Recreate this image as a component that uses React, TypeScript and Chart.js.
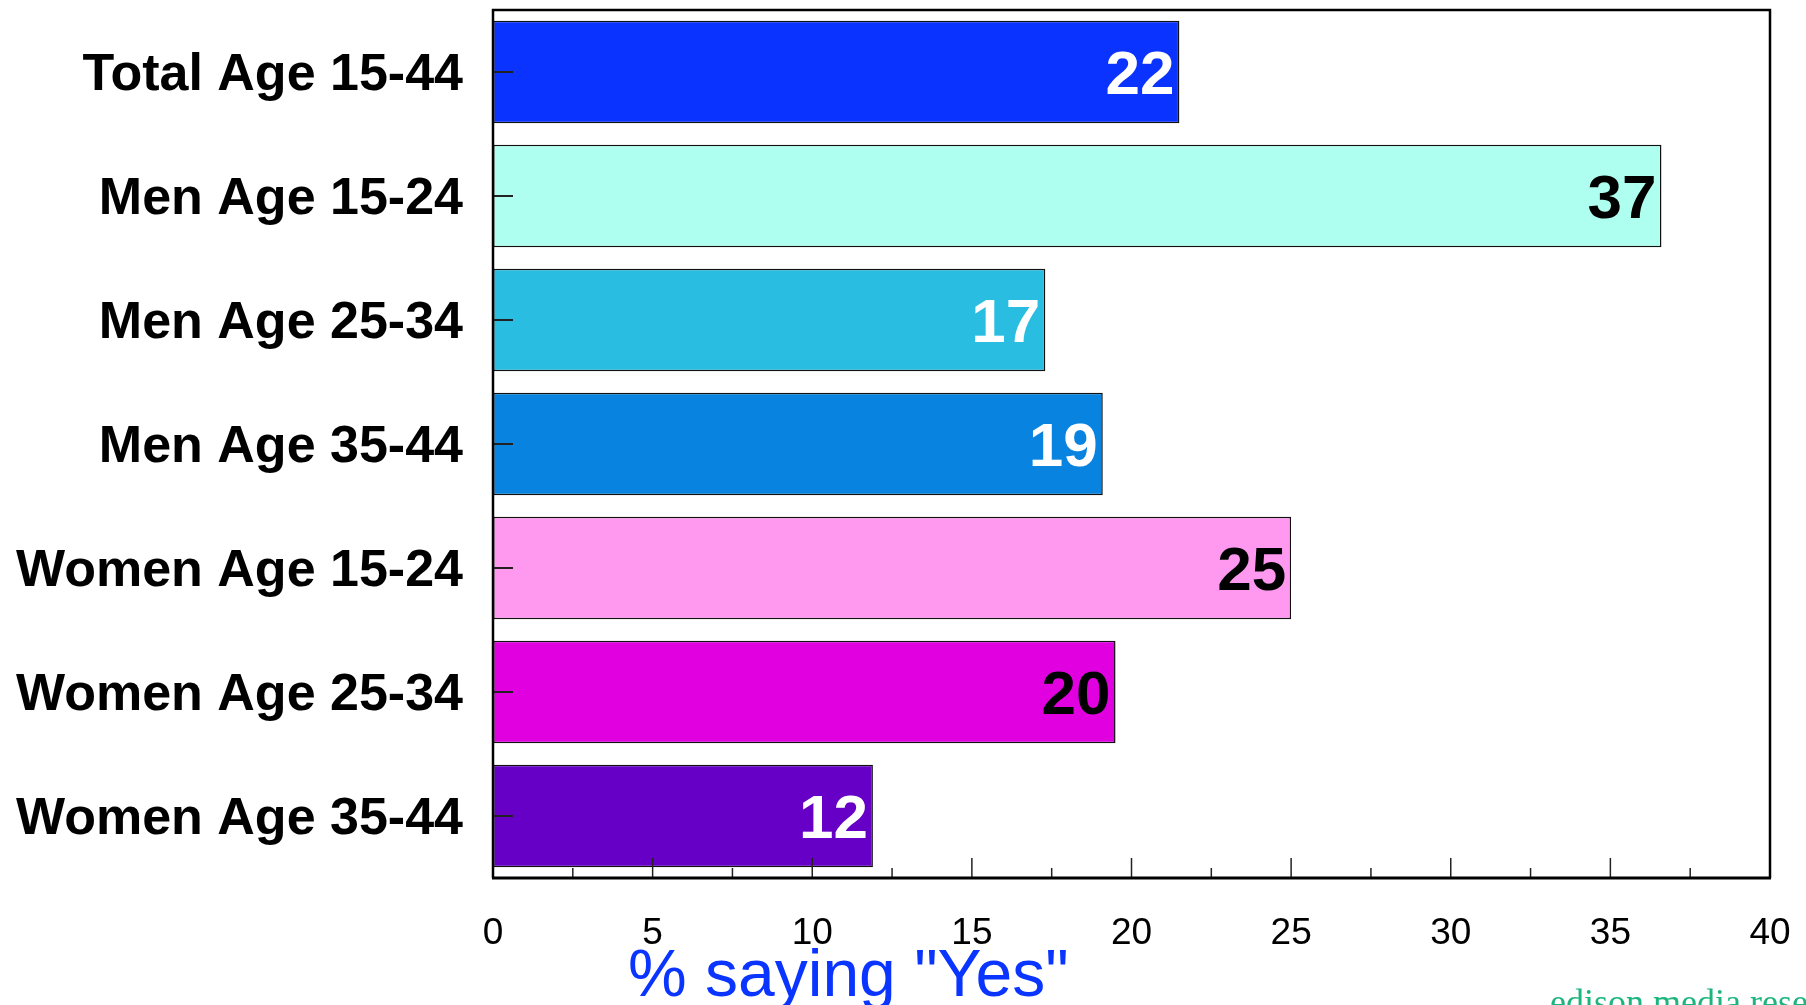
import { useEffect, useRef } from "react";
import { Chart, registerables } from "chart.js";

Chart.register(...registerables);

const categories = [
  "Total Age 15-44",
  "Men Age 15-24",
  "Men Age 25-34",
  "Men Age 35-44",
  "Women Age 15-24",
  "Women Age 25-34",
  "Women Age 35-44",
];
const values = [21.5, 36.6, 17.3, 19.1, 25.0, 19.5, 11.9];
const valueLabels = ["22", "37", "17", "19", "25", "20", "12"];
const barColors = ["#0b33ff", "#aefff0", "#2abde2", "#0884e0", "#ff99f0", "#e000e0", "#6600c6"];
const labelColors = ["#ffffff", "#000000", "#ffffff", "#ffffff", "#000000", "#000000", "#ffffff"];
const xMin = 0;
const xMax = 40;
const xStep = 5;
const xMinorStep = 2.5;
const axisTitle = '% saying "Yes"';
const watermark = "edison media research";

const SANS = "Arial, 'Liberation Sans', Helvetica, sans-serif";
const SERIF = "'Liberation Serif', 'Times New Roman', serif";

const overlay = {
  id: "overlay",
  afterDatasetsDraw(chart: any) {
    const ctx = chart.ctx;
    const a = chart.chartArea;
    const xs = chart.scales.x;
    const ys = chart.scales.y;
    ctx.save();
    // value labels
    const meta = chart.getDatasetMeta(0);
    ctx.font = `bold 62px ${SANS}`;
    ctx.textAlign = "right";
    ctx.textBaseline = "alphabetic";
    meta.data.forEach((bar: any, i: number) => {
      ctx.fillStyle = labelColors[i];
      ctx.fillText(valueLabels[i], bar.x - 5, bar.y + 22);
    });
    // x ticks (inside, pointing up)
    ctx.strokeStyle = "#222";
    ctx.lineWidth = 1.5;
    for (let v = xMin; v <= xMax + 1e-9; v += xMinorStep) {
      const px = xs.getPixelForValue(v);
      const major = Math.abs(v / xStep - Math.round(v / xStep)) < 1e-6;
      ctx.beginPath();
      ctx.moveTo(px, a.bottom);
      ctx.lineTo(px, a.bottom - (major ? 20 : 10));
      ctx.stroke();
    }
    // y ticks (inside, pointing right)
    ctx.lineWidth = 2;
    categories.forEach((_, i) => {
      const py = ys.getPixelForValue(i);
      ctx.beginPath();
      ctx.moveTo(a.left, py);
      ctx.lineTo(a.left + 20, py);
      ctx.stroke();
    });
    // frame
    ctx.strokeStyle = "#000";
    ctx.lineWidth = 2.5;
    ctx.beginPath();
    ctx.moveTo(a.left, a.bottom);
    ctx.lineTo(a.left, a.top);
    ctx.lineTo(a.right, a.top);
    ctx.lineTo(a.right, a.bottom);
    ctx.stroke();
    ctx.lineWidth = 3;
    ctx.beginPath();
    ctx.moveTo(a.left - 1, a.bottom);
    ctx.lineTo(a.right + 1, a.bottom);
    ctx.stroke();
    ctx.restore();
  },
  afterDraw(chart: any) {
    const ctx = chart.ctx;
    const a = chart.chartArea;
    ctx.save();
    ctx.textAlign = "left";
    ctx.textBaseline = "alphabetic";
    ctx.fillStyle = "#0a34ff";
    ctx.font = `66px ${SANS}`;
    ctx.fillText(axisTitle, a.left + 135, a.bottom + 118);
    ctx.fillStyle = "#1cb57e";
    ctx.font = `36px ${SERIF}`;
    ctx.fillText(watermark, 1550, chart.height + 9);
    ctx.restore();
  },
};

export default function App() {
  const ref = useRef<HTMLCanvasElement | null>(null);
  useEffect(() => {
    document.body.style.margin = "0";
    document.body.style.overflow = "hidden";
    if (!ref.current) return;
    const chart = new Chart(ref.current, {
      type: "bar",
      data: {
        labels: categories,
        datasets: [
          {
            data: values,
            backgroundColor: barColors,
            borderColor: "#111",
            borderWidth: 1.5,
            borderSkipped: false,
            categoryPercentage: 1,
            barPercentage: 0.826,
          },
        ],
      },
      options: {
        indexAxis: "y",
        responsive: false,
        animation: false,
        devicePixelRatio: 1,
        layout: { padding: { top: 10, right: 36, left: 0, bottom: 0 } },
        plugins: { legend: { display: false }, tooltip: { enabled: false } },
        scales: {
          x: {
            type: "linear",
            min: xMin,
            max: xMax,
            position: "bottom",
            grid: { display: false, drawTicks: false },
            border: { display: false },
            ticks: { stepSize: xStep, padding: 34, color: "#000", font: { family: SANS, size: 37 } },
            afterFit(s: any) {
              s.height = 127;
              s.paddingLeft = 0;
              s.paddingRight = 0;
            },
          },
          y: {
            type: "category",
            grid: { display: false, drawTicks: false },
            border: { display: false },
            ticks: {
              padding: 30,
              labelOffset: 4,
              color: "#000",
              font: { family: SANS, size: 52, weight: "bold" },
            },
            afterFit(s: any) {
              s.width = 493;
              s.paddingTop = 0;
              s.paddingBottom = 0;
            },
          },
        },
      },
      plugins: [overlay],
    } as any);
    return () => chart.destroy();
  }, []);
  return (
    <div style={{ width: 1806, height: 1005 }}>
      <canvas ref={ref} width={1806} height={1005} style={{ display: "block" }} />
    </div>
  );
}
